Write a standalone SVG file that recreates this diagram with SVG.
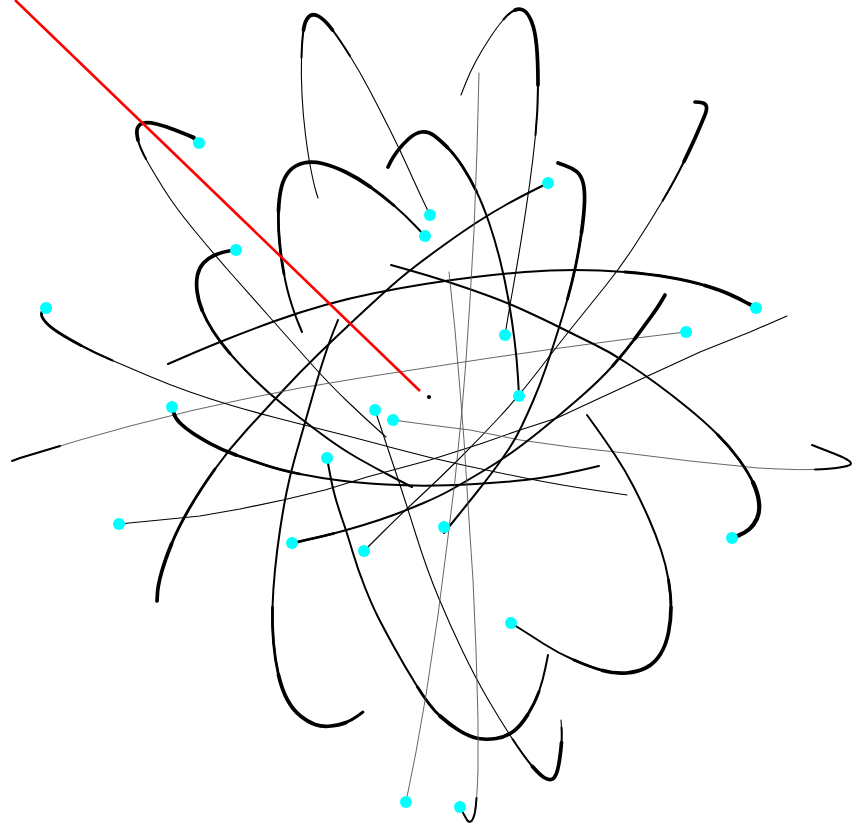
<svg xmlns="http://www.w3.org/2000/svg" width="855" height="827" viewBox="0 0 855 827">
<style>
.k{fill:none;stroke:#000;stroke-linecap:round;stroke-linejoin:round}
.t{stroke-width:1.1}
.m{stroke-width:2}
.h{stroke-width:2.8}
.x{stroke-width:3.7}
.g{fill:none;stroke:#555;stroke-width:0.9;stroke-linecap:round;stroke-linejoin:round}
.dot{fill:#00ffff}
</style>
<rect width="855" height="827" fill="#fff"/>
<g id="curves">
<g id="c1">
<path class="k t" d="M199,143 L192,138.5 Q185,134 175,130 Q165,126 156.5,124 Q148,122 143.5,123 Q139,124 137.5,128 Q136,132 138,140 Q140,148 146,159 Q152,170 163.5,188.5 Q175,207 194,230 Q213,253 231.5,274 Q250,295 270,317.5 Q290,340 310,362.5 Q330,385 348.5,402.5 Q367,420 376.5,428.5 L386,437"/>
<path class="k x" d="M194,137.5 Q185,134 175,130 Q165,126 156.5,124 Q148,122 143.5,123 Q139,124 137.5,128 Q136,132 138,140"/>
<path class="k m" d="M138,140 Q140,148 146,159"/>
</g>
<g id="c2">
<path class="k m" d="M236,250 L229,251 Q222,252 215,255 Q208,258 203.5,263 Q199,268 197.5,275 Q196,282 197,291 Q198,300 202,310 Q206,320 213,331 Q220,342 230,353.5 Q240,365 253.5,378.5 Q267,392 283.5,405 Q300,418 320,433 Q340,448 357.5,458 Q375,468 393.5,477.5 L412,487"/>
<path class="k x" d="M231,250.5 Q222,252 215,255 Q208,258 203.5,263 Q199,268 197.5,275 Q196,282 197,291 Q198,300 202,310"/>
<path class="k h" d="M202,310 Q206,320 213,331 Q220,342 230,353.5"/>
</g>
<g id="c3">
<path class="k m" d="M425,236 L415,225.5 Q405,215 394,205.5 Q383,196 370.5,187 Q358,178 345.5,172 Q333,166 322.5,163.5 Q312,161 303.5,163 Q295,165 289.5,171 Q284,177 281.5,187 Q279,197 278.5,211 Q278,225 279.5,241.5 Q281,258 284,274 Q287,290 291,302.5 Q295,315 298.5,323.5 L302,332"/>
<path class="k x" d="M370.5,187 Q358,178 345.5,172 Q333,166 322.5,163.5 Q312,161 303.5,163 Q295,165 289.5,171 Q284,177 281.5,187 Q279,197 278.5,211"/>
<path class="k h" d="M394,205.5 Q383,196 370.5,187 M278.5,211 Q278,225 279.5,241.5 Q281,258 284,274"/>
</g>
<g id="c4">
<path class="k t" d="M430,215 L424,202.5 Q418,190 409,170 Q400,150 390,130 Q380,110 370,91 Q360,72 350,56 Q340,40 332.5,30 Q325,20 319,16.5 Q313,13 309,16.5 Q305,20 303.5,30 Q302,40 301.5,57.5 Q301,75 302,95 Q303,115 305.5,135 Q308,155 311,170 Q314,185 316,191.5 L318,198"/>
<path class="k x" d="M332.5,30 Q325,20 319,16.5 Q313,13 309,16.5 Q305,20 303.5,30"/>
<path class="k m" d="M350,56 Q340,40 332.5,30 M303.5,30 Q302,40 301.5,57.5"/>
</g>
<g id="c5">
<path class="k m" d="M548,183 L534,190 Q520,197 506.5,204.5 Q493,212 479,221 Q465,230 447.5,242.5 Q430,255 415,266.5 Q400,278 383.5,293 Q367,308 351,323 Q335,338 317.5,355 Q300,372 282.5,391 Q265,410 247.5,429 Q230,448 215,469 Q200,490 189,509 Q178,528 171.5,544 Q165,560 161.5,572.5 Q158,585 157.5,593 L157,601"/>
<path class="k x" d="M171.5,544 Q165,560 161.5,572.5 Q158,585 157.5,593 L157,601"/>
<path class="k h" d="M215,469 Q200,490 189,509 Q178,528 171.5,544"/>
</g>
<g id="c6">
<path class="k t" d="M505,335 L507.5,320 Q510,305 514,282.5 Q518,260 522,235 Q526,210 529.5,185 Q533,160 535.5,135 Q538,110 538,85 Q538,60 536.5,45 Q535,30 531.5,21.5 Q528,13 524,10.5 Q520,8 515,10 Q510,12 503.5,19.5 Q497,27 489.5,38.5 Q482,50 476,61 Q470,72 465.5,83.5 L461,95"/>
<path class="k x" d="M538,85 Q538,60 536.5,45 Q535,30 531.5,21.5 Q528,13 524,10.5 Q520,8 515,10"/>
<path class="k m" d="M535.5,135 Q538,110 538,85 M515,10 Q510,12 503.5,19.5"/>
</g>
<g id="c7">
<path class="k m" d="M756,308 L748,303.5 Q740,299 730,294.5 Q720,290 705,285.5 Q690,281 670,277.5 Q650,274 625,272 Q600,270 575,270 Q550,270 525,272 Q500,274 475,277 Q450,280 425,284 Q400,288 375,293 Q350,298 325,305 Q300,312 275,321 Q250,330 227.5,339 Q205,348 186.5,356 L168,364"/>
<path class="k x" d="M753,306 L748,303.5 Q740,299 730,294.5 Q720,290 705,285.5"/>
<path class="k h" d="M705,285.5 Q690,281 670,277.5 Q650,274 625,272"/>
</g>
<g id="c8">
<polyline class="g" points="686,332 620,340 560,348 490,358 425,368 360,378 300,388 240,400 190,411 130,426 80,440 40,452 20,458 12,461"/>
<polyline class="k m" points="60,446 40,452 20,458 12,461"/>
</g>
<g id="c9">
<path class="k m" d="M519,396 L518,378 Q517,360 514.5,340 Q512,320 508.5,300 Q505,280 500,260 Q495,240 489,222.5 Q483,205 476.5,191.5 Q470,178 462.5,166.5 Q455,155 447.5,147.5 Q440,140 434,135.5 Q428,131 421.5,132 Q415,133 408.5,139 Q402,145 397.5,151 Q393,157 390.5,162 L388,167"/>
<path class="k x" d="M447.5,147.5 Q440,140 434,135.5 Q428,131 421.5,132 Q415,133 408.5,139 Q402,145 397.5,151 Q393,157 390.5,162 L388,167"/>
<path class="k h" d="M476.5,191.5 Q470,178 462.5,166.5 Q455,155 447.5,147.5"/>
</g>
<g id="c10">
<path class="k t" d="M364,551 L382,533 Q400,515 420,496.5 Q440,478 460,458 Q480,438 499.5,417 Q519,396 538.5,370.5 Q558,345 574,325 Q590,305 605,286.5 Q620,268 635,245 Q650,222 662.5,201 Q675,180 684,161.5 Q693,143 697.5,132.5 Q702,122 704.5,116 Q707,110 706.5,107 Q706,104 703,103 Q700,102 695,102"/>
<path class="k x" d="M684,161.5 Q693,143 697.5,132.5 Q702,122 704.5,116 Q707,110 706.5,107 Q706,104 703,103 Q700,102 695,102"/>
<path class="k m" d="M662.5,201 Q675,180 684,161.5"/>
</g>
<g id="c11">
<path class="k t" d="M46,308 L43.5,310 Q41,312 41.5,315 Q42,318 46,322.5 Q50,327 58.5,332.5 Q67,338 81,345.5 Q95,353 112.5,360.5 Q130,368 150,376.5 Q170,385 190,392 Q210,399 230,405 Q250,411 275,417.5 Q300,424 330,431.5 Q360,439 395,448.5 Q430,458 465,465.5 Q500,473 530,479 Q560,485 593.5,490 L627,495"/>
<path class="k h" d="M43.5,310 Q41,312 41.5,315 Q42,318 46,322.5 Q50,327 58.5,332.5 Q67,338 81,345.5"/>
<path class="k m" d="M81,345.5 Q95,353 112.5,360.5"/>
</g>
<g id="c12">
<path class="k m" d="M172,407 L173.5,412.5 Q175,418 180,423 Q185,428 192.5,433 Q200,438 211,444 Q222,450 236,455 Q250,460 265,465 Q280,470 300,474 Q320,478 340,480.5 Q360,483 386,484.5 Q412,486 436,485.5 Q460,485 490,483 Q520,481 540,478 Q560,475 579.5,470.5 L599,466"/>
<path class="k x" d="M172,410 L173.5,412.5 Q175,418 180,423 Q185,428 192.5,433 Q200,438 211,444 Q222,450 236,455"/>
<path class="k h" d="M236,455 Q250,460 265,465 Q280,470 300,474"/>
</g>
<g id="c13">
<polyline class="k t" points="119,524 160,520 200,516 240,509 283,500 325,490 367,477 430,460 480,444 520,430 557,418 600,398 650,375 700,352 750,332 787,316"/>
</g>
<g id="c14">
<path class="g" d="M393,420 L430,425 L470,430 L520,440 L570,447 L625,453 L690,461 L758,468 L779,469 Q800,470 815,469.5 Q830,469 839.5,467.5 Q849,466 850.5,464.5 Q852,463 848.5,460.5 Q845,458 837.5,455 Q830,452 821,448.5 L812,445"/>
<path class="k m" d="M815,469.5 Q830,469 839.5,467.5 Q849,466 850.5,464.5 Q852,463 848.5,460.5 Q845,458 837.5,455 Q830,452 821,448.5 L812,445"/>
</g>
<g id="c15">
<path class="k t" d="M375,410 L382.5,432.5 Q390,455 397.5,477.5 Q405,500 416,535 Q427,570 438.5,597.5 Q450,625 462.5,651 Q475,677 487.5,698.5 Q500,720 512.5,739 Q525,758 532.5,766.5 Q540,775 544,777.5 Q548,780 551,779.5 Q554,779 556,774.5 Q558,770 559.5,760 Q561,750 561.5,742.5 Q562,735 561.5,727.5 L561,720"/>
<path class="k x" d="M532.5,766.5 Q540,775 544,777.5 Q548,780 551,779.5 Q554,779 556,774.5 Q558,770 559.5,760 Q561,750 561.5,742.5"/>
<path class="k m" d="M512.5,739 Q525,758 532.5,766.5 M561.5,742.5 Q562,735 561.5,727.5"/>
</g>
<g id="c16">
<path class="k m" d="M327,458 L330,474 Q333,490 336.5,501.5 Q340,513 343.5,523 Q347,533 352.5,551.5 Q358,570 365,587.5 Q372,605 377.5,616 Q383,627 394,647 Q405,667 417.5,687 Q430,707 440,716 Q450,725 460,731 Q470,737 478.5,738.5 Q487,740 496,738.5 Q505,737 512.5,732 Q520,727 527.5,715 Q535,703 539,691.5 Q543,680 545.5,667.5 L548,655"/>
<path class="k x" d="M440,716 Q450,725 460,731 Q470,737 478.5,738.5 Q487,740 496,738.5 Q505,737 512.5,732 Q520,727 527.5,715"/>
<path class="k h" d="M417.5,687 Q430,707 440,716 M527.5,715 Q535,703 539,691.5"/>
</g>
<g id="c17">
<path class="k m" d="M292,543 L306,540 Q320,537 333.5,533.5 Q347,530 363.5,525 Q380,520 393.5,515 Q407,510 423.5,503 Q440,496 451.5,489.5 Q463,483 479,473.5 Q495,464 507.5,455.5 Q520,447 540,431 Q560,415 580,397.5 Q600,380 612.5,366 Q625,352 635,338.5 Q645,325 651.5,316 Q658,307 661.5,301 L665,295"/>
<path class="k x" d="M635,338.5 Q645,325 651.5,316 Q658,307 661.5,301 L665,295"/>
<path class="k h" d="M294,543 L306,540 Q320,537 333.5,533.5 M612.5,366 Q625,352 635,338.5"/>
</g>
<g id="c18">
<path class="k m" d="M444,533 L454.5,520 Q465,507 475,494.5 Q485,482 494,470 Q503,458 509.5,448 Q516,438 521.5,426.5 Q527,415 533.5,400 Q540,385 546,367.5 Q552,350 557.5,332.5 Q563,315 567.5,299 Q572,283 575.5,266.5 Q579,250 581.5,232.5 Q584,215 584.5,202.5 Q585,190 583,182.5 Q581,175 576.5,171.5 Q572,168 565,165.5 L558,163"/>
<path class="k x" d="M581.5,232.5 Q584,215 584.5,202.5 Q585,190 583,182.5 Q581,175 576.5,171.5 Q572,168 565,165.5 L558,163"/>
<path class="k h" d="M567.5,299 Q572,283 575.5,266.5 Q579,250 581.5,232.5"/>
</g>
<g id="c19">
<path class="k m" d="M511,623 L520.5,629 Q530,635 544,644 Q558,653 574,660 Q590,667 602.5,670.5 Q615,674 626.5,673 Q638,672 646.5,667.5 Q655,663 660.5,654 Q666,645 668.5,632.5 Q671,620 671,607.5 Q671,595 668.5,580 Q666,565 661,550 Q656,535 649,519 Q642,503 633.5,486.5 Q625,470 615,455 Q605,440 596,427.5 L587,415"/>
<path class="k x" d="M602.5,670.5 Q615,674 626.5,673 Q638,672 646.5,667.5 Q655,663 660.5,654 Q666,645 668.5,632.5 Q671,620 671,607.5"/>
<path class="k h" d="M574,660 Q590,667 602.5,670.5 M671,607.5 Q671,595 668.5,580"/>
</g>
<g id="c20">
<path class="k m" d="M391,265 L410.5,270.5 Q430,276 450,282.5 Q470,289 489,296 Q508,303 526.5,311.5 Q545,320 560,327.5 Q575,335 592.5,343.5 Q610,352 626,362.5 Q642,373 657,384 Q672,395 688.5,408.5 Q705,422 717.5,434.5 Q730,447 739,459.5 Q748,472 753,482.5 Q758,493 759,502.5 Q760,512 757,518.5 Q754,525 749.5,529 Q745,533 738.5,535.5 L732,538"/>
<path class="k" style="stroke-width:4.2" d="M753,482.5 Q758,493 759,502.5 Q760,512 757,518.5 Q754,525 749.5,529 Q745,533 738.5,535.5 L734,537"/>
<path class="k h" d="M717.5,434.5 Q730,447 739,459.5 Q748,472 753,482.5"/>
</g>
<g id="c21">
<path class="k m" d="M338,320 L334,330 Q330,340 325,355 Q320,370 315,387.5 Q310,405 305,422.5 Q300,440 295,457.5 Q290,475 286.5,492.5 Q283,510 280,530 Q277,550 275,570 Q273,590 272.5,607.5 Q272,625 273.5,642.5 Q275,660 278.5,675 Q282,690 287.5,700 Q293,710 300.5,716 Q308,722 315,724.5 Q322,727 331,726 Q340,725 346,722.5 Q352,720 357.5,716 L363,712"/>
<path class="k x" d="M278.5,675 Q282,690 287.5,700 Q293,710 300.5,716 Q308,722 315,724.5 Q322,727 331,726 Q340,725 346,722.5"/>
<path class="k h" d="M272.5,607.5 Q272,625 273.5,642.5 Q275,660 278.5,675 M346,722.5 Q352,720 357.5,716 L363,712"/>
</g>
<g id="c22">
<polyline class="g" points="479,73 477,150 474,230 470,300 466,360 462,410 455,480 447,545 438,615 426,695 416,752 406,802"/>
</g>
<g id="c23">
<path class="g" d="M449,272 L455,330 L460,390 L464,440 L469,520 L473,580 L476,650 L478,720 L478,770 Q477,800 475,812 Q472,826 467,820 L460,807"/>
<path class="k m" d="M476.5,798 Q476,806 475,812 Q472,826 467,820 L462,811"/>
</g>
</g>
<g id="pointer">
<line x1="15" y1="0" x2="420" y2="391" stroke="#ff0000" stroke-width="2.6"/>
<circle cx="429" cy="397" r="2" fill="#000"/>
</g>
<g id="dots">
<circle class="dot" cx="199" cy="143" r="6"/>
<circle class="dot" cx="236" cy="250" r="6"/>
<circle class="dot" cx="425" cy="236" r="6"/>
<circle class="dot" cx="430" cy="215" r="6"/>
<circle class="dot" cx="548" cy="183" r="6"/>
<circle class="dot" cx="505" cy="335" r="6"/>
<circle class="dot" cx="756" cy="308" r="6"/>
<circle class="dot" cx="686" cy="332" r="6"/>
<circle class="dot" cx="519" cy="396" r="6"/>
<circle class="dot" cx="364" cy="551" r="6"/>
<circle class="dot" cx="46" cy="308" r="6"/>
<circle class="dot" cx="172" cy="407" r="6"/>
<circle class="dot" cx="119" cy="524" r="6"/>
<circle class="dot" cx="393" cy="420" r="6"/>
<circle class="dot" cx="375" cy="410" r="6"/>
<circle class="dot" cx="327" cy="458" r="6"/>
<circle class="dot" cx="292" cy="543" r="6"/>
<circle class="dot" cx="444" cy="527" r="6"/>
<circle class="dot" cx="511" cy="623" r="6"/>
<circle class="dot" cx="732" cy="538" r="6"/>
<circle class="dot" cx="406" cy="802" r="6"/>
<circle class="dot" cx="460" cy="807" r="6"/>
</g>
</svg>
